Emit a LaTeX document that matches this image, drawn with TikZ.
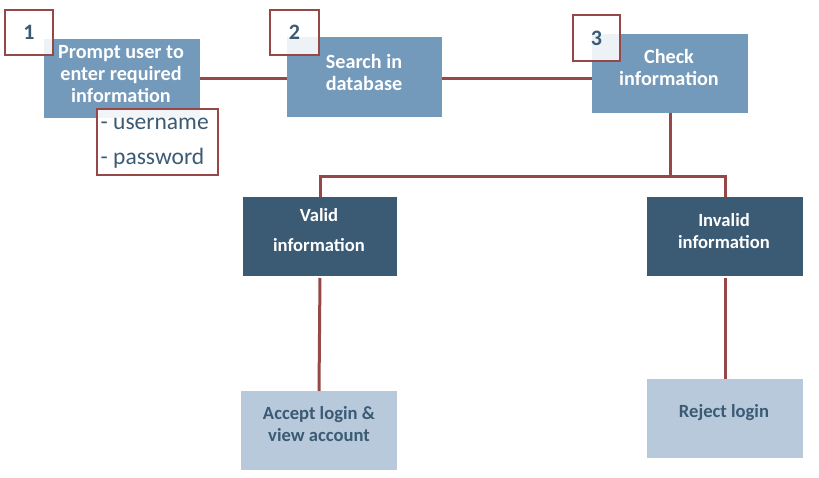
\documentclass[tikz,border=0pt]{standalone}
\usepackage{fontspec}
\setmainfont{Carlito}
\definecolor{midblue}{HTML}{7399BB}
\definecolor{darkblue}{HTML}{3B5A74}
\definecolor{lightblue}{HTML}{B8C9DB}
\definecolor{linered}{HTML}{964848}
\tikzset{
  box/.style={rectangle, inner sep=0pt, outer sep=0pt},
  boxmid/.style={box, fill=midblue},
  boxdark/.style={box, fill=darkblue},
  boxlight/.style={box, fill=lightblue},
  numbox/.style={box, draw=linered, line width=2.2pt, fill=white, fill opacity=0.88, text opacity=1,
    text=darkblue, font=\fontsize{22}{24}\selectfont\bfseries},
  txtw/.style={align=center, text=white, inner sep=0pt},
  txtd/.style={align=center, text=darkblue, inner sep=0pt},
  conn/.style={draw=linered, line width=3pt},
}
\begin{document}
\begin{tikzpicture}[x=1pt,y=-1pt]
\useasboundingbox (0,0) rectangle (819,478);
% top row
\node[boxmid, minimum width=156pt, minimum height=79pt] (b1) at (122,78.5) {};
\node[boxmid, minimum width=155pt, minimum height=80pt] (b2) at (364.5,77) {};
\node[boxmid, minimum width=156pt, minimum height=79pt] (b3) at (670,73.5) {};
\node[txtw, font=\fontsize{20.2}{22}\selectfont\bfseries] (t1) at (121,74) {Prompt user to\\enter required\\information};
\node[txtw, font=\fontsize{20.2}{22}\selectfont\bfseries] (t2) at (364,72) {Search in\\database};
\node[txtw, font=\fontsize{20.2}{22}\selectfont\bfseries] (t3) at (669,67.5) {Check\\information};
% number boxes
\node[numbox, minimum width=48pt, minimum height=45pt] (n1) at (29,32.5) {1};
\node[numbox, minimum width=49pt, minimum height=45pt] (n2) at (294.5,32.5) {2};
\node[numbox, minimum width=47pt, minimum height=46pt] (n3) at (596.5,38) {3};
% username box
\node[box, draw=linered, line width=2.2pt, fill=white, fill opacity=0.9, minimum width=121pt, minimum height=66pt] (ub) at (157.5,142) {};
\node[txtd, anchor=west, font=\fontsize{23.5}{24}\selectfont] (u1) at (100.5,124) {- username};
\node[txtd, anchor=west, font=\fontsize{23.5}{24}\selectfont] (u2) at (100.5,158) {- password};
% middle row
\node[boxdark, minimum width=154pt, minimum height=79pt] (v) at (320,236.5) {};
\node[boxdark, minimum width=156pt, minimum height=79pt] (iv) at (725,236.5) {};
\node[txtw, font=\fontsize{18.6}{22}\selectfont\bfseries] (tv) at (319,230) {Valid\\[8pt]information};
\node[txtw, font=\fontsize{18.6}{22}\selectfont\bfseries] (tiv) at (724,231) {Invalid\\information};
% bottom row
\node[boxlight, minimum width=156pt, minimum height=79pt] (a) at (319,430.5) {};
\node[boxlight, minimum width=156pt, minimum height=79pt] (r) at (725,418.5) {};
\node[txtd, font=\fontsize{18.6}{22}\selectfont\bfseries] (ta) at (319,424.5) {Accept login \&\\view account};
\node[txtd, font=\fontsize{18.6}{22}\selectfont\bfseries] (tr) at (724,413) {Reject login};
% connectors
\coordinate (lv) at (0,79);
\coordinate (jn) at (670,177);
\draw[conn] (b1.east |- lv) -- (b2.west |- lv);
\draw[conn] (b2.east |- lv) -- (b3.west |- lv);
\draw[conn] (b3.south) -- (jn);
\draw[conn] (v.north) |- (jn) -| (iv.north);
\draw[conn, shorten <=2pt] (v.south) -- (a.north);
\draw[conn, shorten <=2pt] (iv.south) -- (r.north);
\end{tikzpicture}
\end{document}
